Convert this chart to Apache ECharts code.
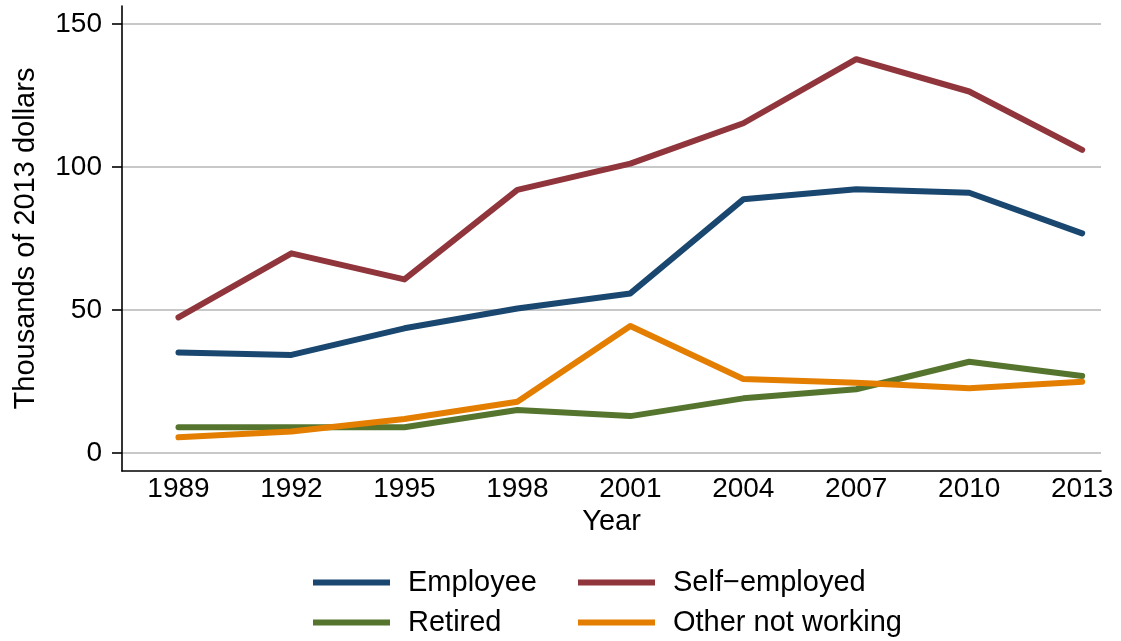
<!DOCTYPE html>
<html>
<head>
<meta charset="utf-8">
<script src="https://cdn.jsdelivr.net/npm/echarts@6/dist/echarts.min.js"></script>
<style>
html,body{margin:0;padding:0;background:#fff;}
#chart{width:1121px;height:641px;}
</style>
</head>
<body>
<div id="chart"></div>
<script>
var years = [1989, 1992, 1995, 1998, 2001, 2004, 2007, 2010, 2013];
var employee = [35.1, 34.3, 43.6, 50.5, 55.8, 88.7, 92.2, 91.0, 76.8];
var selfEmployed = [47.4, 69.8, 60.7, 92.0, 101.2, 115.3, 137.7, 126.4, 106.0];
var retired = [9.0, 9.0, 9.0, 15.0, 12.9, 19.1, 22.3, 31.9, 26.9];
var otherNotWorking = [5.5, 7.5, 11.9, 17.9, 44.4, 25.9, 24.6, 22.6, 24.9];
var yTicks = [0, 50, 100, 150];
var seriesNames = ['Employee', 'Self\u2212employed', 'Retired', 'Other not working'];
var colors = ['#1a476f', '#90353b', '#55752f', '#e37e00'];

var FONT = 'Liberation Sans';
var FS_TICK = 28;
var FS = 29;

function pairs(vals) {
  return years.map(function (y, i) { return [y, vals[i]]; });
}
var allVals = [employee, selfEmployed, retired, otherNotWorking];

var series = allVals.map(function (vals, i) {
  return {
    name: seriesNames[i],
    type: 'line',
    data: pairs(vals),
    showSymbol: false,
    symbol: 'none',
    lineStyle: { width: 6, color: colors[i], cap: 'round', join: 'round' },
    itemStyle: { color: colors[i] },
    animation: false
  };
});

// legend positions: [left, top] for each series name
var legendPos = [[313, 568], [578, 568], [313, 608], [578, 608]];
var legends = seriesNames.map(function (nm, i) {
  return {
    left: legendPos[i][0],
    top: legendPos[i][1],
    padding: 0,
    data: [nm],
    icon: 'rect',
    itemWidth: 77,
    itemHeight: 6,
    selectedMode: false,
    textStyle: { fontFamily: FONT, fontSize: FS, color: '#000', padding: [0, 0, 0, 13] }
  };
});

var option = {
  backgroundColor: '#fff',
  animation: false,
  grid: { left: 122, right: 20, top: 6, bottom: 170, containLabel: false },
  legend: legends,
  xAxis: {
    type: 'value',
    min: 1987.5,
    max: 2013.5,
    name: 'Year',
    nameLocation: 'middle',
    nameGap: 34,
    nameTextStyle: { fontFamily: FONT, fontSize: FS, color: '#000' },
    axisLine: { show: true, onZero: false, lineStyle: { color: '#000', width: 1.6 } },
    axisTick: { show: false, customValues: years },
    axisLabel: { customValues: years, fontFamily: FONT, fontSize: FS_TICK, color: '#000', margin: 4,
      formatter: function (v) { return String(v); } },
    splitLine: { show: false }
  },
  yAxis: {
    type: 'value',
    min: -6.3,
    max: 156.3,
    name: 'Thousands of 2013 dollars',
    nameLocation: 'middle',
    nameGap: 82,
    nameTextStyle: { fontFamily: FONT, fontSize: FS, color: '#000' },
    axisLine: { show: true, onZero: false, lineStyle: { color: '#000', width: 1.6 } },
    axisTick: { show: true, length: 10, customValues: yTicks, lineStyle: { color: '#000', width: 1.6 } },
    axisLabel: { customValues: yTicks, fontFamily: FONT, fontSize: FS_TICK, color: '#000', margin: 20 },
    splitLine: { show: true, lineStyle: { color: '#c8c8c8', width: 2 } }
  },
  series: series
};

var chart = echarts.init(document.getElementById('chart'), null, { renderer: 'canvas' });
chart.setOption(option);
</script>
</body>
</html>
